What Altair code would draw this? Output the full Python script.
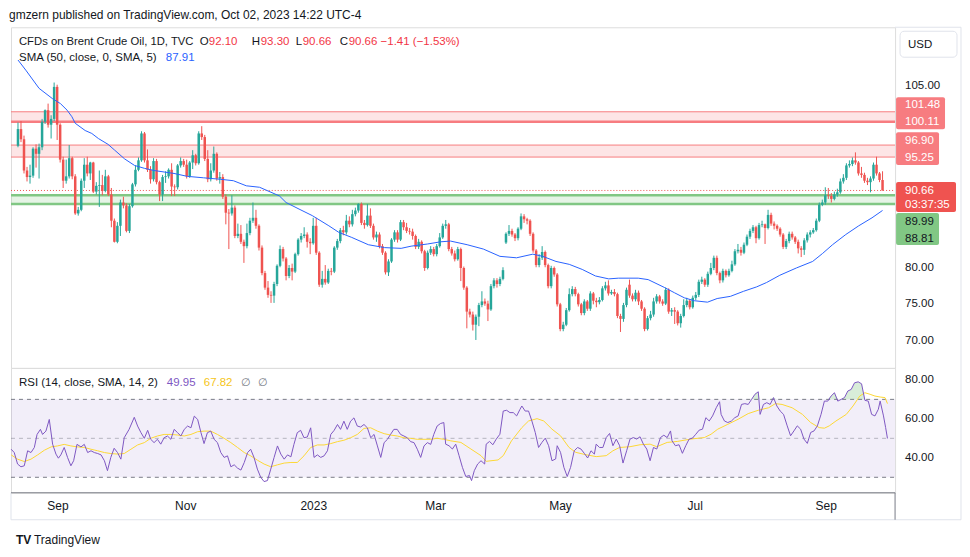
import altair as alt
import pandas as pd

# ---------------- data ----------------
# daily bars, index 0 = 2022-08-11 ... index 287 = 2023-10-02
CLOSE = [
    99.1, 97.7, 93.4, 92.5, 92.7, 96.4, 95.7, 96.6, 100.1, 101.7,
    99.7, 100.5, 104.9, 99.7, 94.9, 92.0, 92.6, 95.1, 92.6, 87.5,
    88.0, 92.0, 94.2, 93.0, 94.5, 90.5, 91.3, 91.4, 90.6, 92.6,
    90.1, 86.5, 83.6, 85.8, 89.0, 88.6, 85.1, 88.5, 91.5, 93.5,
    94.8, 98.5, 94.8, 93.5, 92.2, 94.7, 91.8, 90.1, 92.5, 92.6,
    93.5, 91.2, 91.1, 94.1, 94.7, 94.2, 92.6, 94.5, 95.5, 94.4,
    98.5, 98.0, 95.0, 92.2, 93.4, 95.7, 92.3, 92.5, 89.8, 87.6,
    87.5, 88.3, 84.4, 84.7, 83.6, 83.0, 84.8, 86.5, 86.9, 85.8,
    82.8, 79.3, 77.3, 76.3, 76.2, 77.8, 80.3, 82.6, 81.3, 78.9,
    80.0, 79.5, 81.9, 83.9, 84.4, 84.6, 83.6, 83.4, 85.8, 82.1,
    77.7, 78.5, 78.0, 79.6, 79.5, 82.8, 83.7, 85.2, 84.9, 86.5,
    86.0, 87.4, 87.9, 88.8, 86.2, 85.9, 87.2, 85.8, 84.2, 84.6,
    83.0, 82.1, 79.4, 80.9, 83.9, 84.9, 83.9, 86.3, 85.6, 85.1,
    85.0, 84.4, 82.9, 83.6, 82.3, 80.0, 82.1, 82.6, 81.9, 83.0,
    84.2, 85.8, 86.0, 82.6, 82.0, 81.2, 82.6, 80.0, 77.3, 74.0,
    73.6, 72.2, 73.3, 74.9, 75.4, 75.1, 74.3, 77.5, 78.3, 77.8,
    78.5, 79.7, 84.7, 85.1, 84.6, 84.1, 85.4, 87.1, 86.7, 86.5,
    84.7, 82.4, 80.4, 81.4, 82.2, 80.4, 77.5, 80.0, 79.1, 75.0,
    71.6, 72.2, 74.2, 76.4, 77.1, 76.4, 75.0, 73.8, 75.4, 74.4,
    76.5, 75.5, 75.3, 75.6, 77.2, 77.6, 76.5, 76.7, 76.4, 73.4,
    73.0, 74.9, 77.0, 76.2, 75.7, 76.6, 75.4, 74.4, 71.6, 73.1,
    73.6, 75.4, 76.1, 75.4, 75.1, 77.0, 74.0, 74.2, 74.0, 72.4,
    73.4, 74.9, 75.5, 74.6, 75.9, 76.3, 78.1, 78.4, 77.7, 79.2,
    80.0, 81.4, 79.3, 78.3, 79.6, 79.0, 79.6, 80.5, 82.3, 82.5,
    82.1, 83.2, 84.3, 85.1, 85.6, 84.1, 85.9, 86.0, 85.5, 87.3,
    86.1, 85.8, 85.4, 84.6, 82.9, 83.7, 84.7, 84.2, 83.6, 82.7,
    82.5, 83.8, 84.6, 84.9, 85.2, 86.5, 88.7, 89.0, 90.0, 89.9,
    89.5, 90.1, 90.4, 91.9, 92.4, 94.1, 94.3, 94.8, 94.5, 93.0,
    92.8, 92.0, 91.8, 92.3, 94.2, 93.0, 92.1, 90.66,
]
HIGH = [
    100.0, 100.2, 98.2, 93.9, 94.2, 96.6, 97.0, 97.1, 100.5, 101.8,
    102.6, 101.0, 105.5, 105.2, 99.9, 95.3, 94.9, 96.9, 95.3, 92.9,
    88.4, 92.3, 95.1, 95.3, 94.6, 94.6, 91.8, 93.4, 92.8, 93.5,
    92.8, 91.0, 86.8, 86.3, 89.4, 89.8, 88.9, 88.8, 91.7, 94.1,
    95.2, 98.8, 98.7, 96.3, 94.0, 95.1, 95.0, 92.0, 92.8, 93.3,
    93.7, 94.4, 91.5, 94.3, 95.2, 95.0, 94.9, 94.7, 96.2, 95.7,
    98.8, 99.5, 98.3, 96.2, 94.4, 96.7, 95.9, 93.2, 92.9, 90.1,
    88.1, 90.0, 88.6, 86.1, 85.9, 83.9, 86.1, 86.9, 89.0, 88.0,
    86.0, 83.1, 79.6, 78.2, 76.8, 78.1, 80.5, 83.1, 82.9, 81.5,
    80.4, 80.6, 82.1, 84.1, 84.8, 85.6, 84.9, 84.1, 86.9, 86.9,
    82.3, 79.6, 80.4, 79.9, 80.0, 83.0, 84.0, 85.5, 85.8, 87.3,
    87.1, 88.0, 88.3, 88.9, 89.0, 86.6, 88.8, 88.2, 86.1, 85.0,
    84.9, 83.3, 82.3, 81.2, 84.1, 85.2, 85.2, 86.6, 86.6, 86.2,
    85.5, 85.4, 84.6, 84.0, 83.8, 82.5, 82.4, 83.0, 82.9, 83.3,
    84.8, 86.1, 86.6, 86.2, 82.9, 82.4, 82.9, 82.8, 80.2, 77.5,
    74.4, 74.0, 73.6, 75.2, 76.8, 75.8, 75.5, 77.8, 78.6, 78.6,
    78.8, 80.1, 84.9, 85.9, 85.4, 84.8, 85.6, 87.5, 87.4, 86.9,
    86.7, 84.9, 82.6, 81.9, 83.0, 82.4, 80.6, 80.3, 80.2, 79.3,
    75.2, 72.6, 74.5, 77.2, 77.5, 77.4, 76.6, 75.2, 75.7, 75.6,
    76.8, 76.7, 75.9, 76.0, 77.5, 78.1, 78.3, 77.0, 77.1, 76.6,
    73.7, 75.2, 77.3, 78.4, 76.5, 77.0, 76.9, 75.6, 74.6, 73.4,
    74.1, 75.9, 76.4, 76.3, 75.7, 77.3, 77.2, 74.5, 74.6, 74.2,
    73.7, 75.7, 75.9, 75.7, 76.2, 76.7, 78.4, 78.8, 78.6, 79.5,
    80.7, 81.7, 81.7, 79.5, 79.9, 79.8, 79.9, 81.0, 82.6, 83.3,
    82.9, 83.5, 84.6, 85.4, 85.9, 85.8, 86.2, 86.5, 86.1, 88.0,
    87.6, 86.4, 86.0, 85.6, 84.8, 84.0, 85.0, 85.0, 84.4, 83.9,
    83.0, 84.1, 84.9, 85.2, 85.5, 86.8, 89.0, 89.4, 91.1, 91.0,
    90.3, 90.5, 90.9, 92.3, 92.9, 94.4, 94.8, 95.2, 95.9, 94.7,
    93.9, 93.1, 92.4, 92.6, 94.5, 95.3, 93.2, 93.30,
]
LOW = [
    96.6, 97.3, 93.0, 91.9, 91.6, 92.4, 93.8, 92.3, 96.2, 99.8,
    99.3, 97.8, 100.2, 97.6, 94.5, 91.0, 91.6, 92.3, 92.2, 87.3,
    87.2, 87.8, 91.0, 92.6, 92.1, 90.3, 90.1, 88.4, 90.0, 90.4,
    89.9, 85.6, 83.5, 83.4, 84.4, 88.2, 84.9, 84.8, 88.3, 91.2,
    93.3, 94.6, 94.5, 93.2, 91.6, 91.9, 91.5, 89.2, 89.2, 91.7,
    92.3, 89.9, 89.9, 90.8, 93.8, 93.9, 92.3, 92.4, 93.6, 94.1,
    94.2, 97.6, 94.7, 91.8, 91.9, 93.1, 92.0, 91.6, 89.5, 86.0,
    82.6, 87.2, 84.1, 84.1, 83.3, 80.7, 82.7, 84.5, 86.2, 85.4,
    82.4, 79.0, 77.0, 75.9, 75.2, 75.2, 77.5, 80.1, 80.9, 78.3,
    78.6, 78.3, 79.3, 81.7, 83.5, 84.1, 82.8, 81.9, 83.2, 81.8,
    77.4, 77.3, 77.7, 77.8, 79.0, 79.3, 82.5, 83.4, 84.5, 84.6,
    85.6, 85.7, 87.1, 87.6, 85.9, 85.4, 85.7, 85.5, 83.9, 83.6,
    82.7, 81.8, 79.1, 78.9, 80.7, 83.6, 83.5, 83.7, 85.2, 84.8,
    84.6, 83.9, 82.6, 82.6, 82.0, 79.6, 79.8, 81.8, 81.6, 81.6,
    82.8, 84.0, 85.4, 82.3, 81.7, 80.9, 81.0, 78.2, 77.0, 71.7,
    73.2, 71.4, 70.1, 72.0, 74.6, 74.8, 72.7, 74.1, 77.2, 77.3,
    77.5, 78.3, 83.3, 84.4, 84.3, 83.7, 83.8, 85.2, 86.2, 86.0,
    84.4, 82.1, 80.1, 80.1, 81.1, 80.1, 77.2, 77.2, 78.8, 74.7,
    71.3, 71.3, 72.0, 74.0, 76.1, 76.1, 74.7, 73.5, 73.5, 74.1,
    74.1, 75.0, 74.6, 75.0, 75.4, 76.9, 76.2, 76.3, 76.1, 73.1,
    71.2, 72.6, 74.6, 75.9, 75.4, 75.4, 74.9, 74.1, 71.3, 71.4,
    72.8, 73.3, 75.1, 75.1, 74.8, 74.9, 73.7, 73.4, 72.3, 72.1,
    71.8, 73.2, 74.6, 74.3, 74.4, 75.6, 76.0, 77.8, 77.4, 77.4,
    79.0, 79.7, 79.0, 77.9, 78.0, 78.7, 78.8, 79.4, 80.3, 82.0,
    81.7, 81.9, 83.0, 84.0, 84.8, 83.4, 83.9, 85.6, 83.3, 85.3,
    85.8, 85.3, 85.1, 84.3, 82.6, 82.6, 83.4, 83.9, 83.3, 82.0,
    81.5, 81.8, 83.5, 84.2, 84.7, 85.0, 86.3, 88.5, 88.7, 89.5,
    89.0, 89.3, 89.8, 90.2, 91.6, 92.1, 93.8, 94.0, 94.2, 92.7,
    92.4, 91.7, 91.4, 90.4, 92.0, 92.7, 91.8, 90.66,
]
FIRST_OPEN = 96.8
GAP_OPENS = {162: 83.5, 203: 77.7}

SMA_POINTS = [
    (0, 108.6), (2.6, 107.2), (7.0, 104.7), (11.4, 103.3), (14.1, 102.6), (16.3, 101.7),
    (17.9, 100.8), (19.0, 99.9), (22.3, 98.9), (24.5, 98.5), (26.7, 97.8), (29.9, 97.0),
    (32.1, 96.2), (35.4, 95.0), (38.7, 94.1), (42.0, 93.7), (45.2, 93.4), (48.5, 93.2),
    (51.8, 93.0), (56.2, 92.6), (61.6, 92.4), (67.1, 92.2), (71.5, 92.0), (75.8, 91.3),
    (80.2, 91.1), (82.4, 90.7), (86.8, 89.9), (89.0, 89.0), (93.3, 88.1), (97.7, 87.2),
    (103.2, 85.8), (106.5, 84.9), (110.8, 84.2), (116.3, 83.2), (121.7, 82.8), (127.2, 82.7),
    (130.5, 83.0), (136.0, 83.3), (140.3, 83.6), (143.6, 83.7), (149.1, 83.2), (154.5, 82.6),
    (160.0, 81.6), (165.5, 81.4), (170.9, 81.9), (174.2, 81.6), (178.6, 80.9), (183.0, 80.5),
    (187.3, 79.8), (191.7, 78.9), (196.1, 78.5), (199.3, 78.6), (205.9, 78.6), (209.2, 78.4),
    (214.7, 77.3), (217.9, 76.6), (221.2, 75.9), (224.5, 75.5), (228.9, 75.3), (232.1, 75.8),
    (236.5, 76.1), (240.9, 76.8), (245.2, 77.4), (248.5, 78.0), (252.9, 79.0), (258.4, 80.0),
    (263.8, 80.9), (267.1, 82.0), (270.4, 83.2), (274.8, 84.6), (279.1, 85.8), (283.5, 86.9),
    (287.0, 87.91),
]

RSI_POINTS = [
    (-0.6, 44.4), (0.4, 42.7), (1.5, 36.8), (2.6, 35.4), (3.7, 35.9), (4.8, 43.6), (5.9, 42.7),
    (7.0, 45.3), (7.9, 52.0), (9.0, 54.6), (9.7, 52.0), (10.8, 53.7), (11.9, 59.7), (13.0, 47.0),
    (14.1, 41.9), (14.9, 39.8), (15.7, 41.5), (16.8, 45.3), (17.9, 40.2), (19.0, 35.9), (19.9, 38.5),
    (21.0, 46.9), (22.3, 45.6), (23.4, 46.9), (24.5, 42.7), (25.6, 43.6), (26.7, 42.7), (27.8, 42.2),
    (28.9, 41.5), (30.0, 38.5), (31.0, 33.4), (32.1, 40.2), (33.2, 44.9), (34.3, 42.7), (35.4, 39.3),
    (36.5, 50.3), (38.1, 54.6), (39.8, 60.8), (40.9, 56.3), (42.0, 52.9), (43.1, 50.0), (44.2, 54.1),
    (45.2, 49.5), (46.3, 47.8), (47.4, 49.5), (48.5, 47.0), (49.6, 50.3), (50.7, 51.2), (51.8, 49.5),
    (52.9, 54.6), (54.0, 52.9), (55.1, 51.2), (56.2, 54.6), (57.3, 56.3), (58.4, 55.4), (59.5, 61.4),
    (60.6, 59.7), (61.7, 52.9), (62.7, 47.3), (63.8, 52.9), (64.9, 53.7), (66.0, 49.5), (67.1, 47.8),
    (68.2, 42.7), (69.3, 40.2), (70.4, 41.0), (71.5, 35.4), (72.6, 36.4), (73.7, 34.7), (74.8, 33.7),
    (75.9, 37.6), (77.0, 42.7), (78.0, 44.4), (79.1, 40.2), (80.2, 34.2), (81.3, 30.0), (82.4, 27.8),
    (83.5, 28.3), (84.6, 34.2), (85.7, 40.2), (86.8, 46.1), (87.9, 41.9), (89.0, 39.3), (90.1, 41.5),
    (91.2, 40.5), (92.2, 46.9), (93.3, 52.9), (94.4, 54.1), (95.5, 50.3), (96.6, 50.7), (97.7, 55.4),
    (98.8, 40.2), (99.9, 41.5), (101.0, 40.2), (102.1, 41.0), (103.2, 43.6), (104.3, 52.0), (105.4, 54.1),
    (106.5, 57.1), (107.5, 54.6), (108.6, 58.8), (109.7, 54.6), (110.8, 58.8), (111.9, 60.5), (113.0, 56.3),
    (114.1, 55.8), (115.2, 57.1), (116.3, 55.4), (117.4, 50.3), (118.5, 52.0), (119.6, 46.1), (120.7, 40.2),
    (121.8, 47.8), (122.9, 49.5), (123.9, 52.0), (125.0, 54.6), (126.1, 54.6), (127.2, 52.0), (128.3, 51.2),
    (129.4, 50.3), (130.5, 48.3), (131.6, 47.8), (132.7, 44.4), (133.8, 40.2), (134.9, 46.1), (136.0, 47.8),
    (137.1, 46.9), (138.1, 52.0), (139.2, 56.3), (140.3, 57.6), (141.4, 58.1), (142.0, 47.0), (143.1, 46.2),
    (144.2, 44.5), (145.3, 47.0), (146.4, 41.1), (147.5, 35.1), (148.6, 30.4), (149.8, 30.9), (150.5, 28.3),
    (151.4, 33.4), (152.5, 36.8), (153.6, 38.5), (154.8, 36.8), (155.3, 47.0), (156.4, 48.4), (157.5, 46.7),
    (158.6, 49.6), (159.8, 52.1), (160.9, 64.0), (162.0, 64.4), (163.1, 63.2), (164.2, 63.2), (165.3, 61.5),
    (166.4, 64.9), (167.0, 66.6), (168.1, 64.0), (169.2, 64.0), (170.3, 58.9), (171.4, 53.0), (172.5, 45.3),
    (173.6, 47.9), (174.7, 50.1), (175.8, 46.2), (176.9, 38.5), (178.1, 39.4), (178.6, 46.2), (179.7, 42.8),
    (180.8, 35.1), (181.9, 30.4), (183.0, 35.1), (184.2, 43.6), (185.3, 45.3), (186.4, 44.5), (187.5, 42.3),
    (188.6, 39.9), (189.7, 43.6), (190.8, 41.9), (191.4, 47.0), (192.5, 45.3), (193.6, 45.3), (194.7, 50.4),
    (195.8, 52.5), (196.9, 46.2), (198.0, 49.6), (199.1, 46.2), (200.2, 37.3), (201.4, 43.6), (202.5, 49.6),
    (203.6, 50.4), (204.7, 49.6), (205.8, 50.8), (206.9, 47.0), (208.0, 44.5), (209.1, 38.5), (210.2, 45.3),
    (211.3, 44.5), (212.5, 50.4), (213.6, 51.6), (214.7, 50.4), (215.8, 53.8), (216.3, 48.7), (217.4, 46.2),
    (218.6, 46.7), (219.7, 42.3), (220.8, 46.2), (221.9, 49.6), (223.0, 50.1), (224.1, 52.1), (225.2, 54.2),
    (226.3, 54.7), (227.4, 60.6), (228.5, 58.9), (229.6, 61.5), (230.8, 65.7), (231.9, 68.8), (232.4, 62.3),
    (233.5, 58.9), (234.6, 58.1), (235.8, 58.9), (236.9, 60.6), (238.0, 61.5), (239.1, 67.4), (240.2, 67.8),
    (241.3, 67.4), (242.4, 70.0), (243.5, 72.6), (244.6, 73.9), (245.2, 62.3), (246.3, 67.4), (247.4, 68.3),
    (248.5, 67.4), (249.6, 70.9), (250.7, 66.6), (251.8, 64.0), (252.9, 62.3), (254.1, 56.4), (255.2, 51.3),
    (256.3, 53.8), (257.4, 56.4), (258.5, 54.7), (259.6, 49.6), (260.7, 47.4), (261.8, 53.0), (262.9, 53.8),
    (264.0, 56.4), (265.2, 62.3), (266.3, 69.1), (267.4, 69.1), (268.5, 71.7), (269.6, 73.4), (270.7, 69.1),
    (271.8, 70.0), (272.9, 70.9), (274.0, 74.3), (275.1, 75.1), (276.2, 78.5), (277.4, 79.0), (278.5, 78.0),
    (279.6, 69.5), (280.7, 69.1), (281.8, 62.3), (282.9, 61.5), (284.0, 64.9), (284.6, 69.1), (285.7, 61.5),
    (286.4, 55.5), (287.0, 49.95),
]

RSI_MA_POINTS = [
    (-0.6, 41.5), (1.5, 39.3), (3.7, 38.1), (5.9, 39.3), (8.1, 41.5), (10.3, 43.9), (12.5, 45.6),
    (14.6, 46.1), (16.8, 46.9), (19.0, 46.1), (21.2, 45.6), (23.4, 45.3), (25.6, 44.4), (27.8, 43.6),
    (30.0, 42.7), (32.1, 42.2), (34.3, 41.9), (36.5, 42.2), (38.7, 44.4), (40.9, 46.6), (43.1, 47.8),
    (45.2, 50.0), (47.4, 51.2), (49.6, 52.0), (51.8, 52.0), (54.0, 51.7), (56.2, 51.2), (58.4, 52.0),
    (60.6, 53.4), (62.7, 53.7), (64.9, 53.7), (67.1, 52.0), (69.3, 50.0), (71.5, 47.8), (73.7, 45.3),
    (75.9, 42.7), (78.0, 41.0), (80.2, 38.8), (82.4, 36.8), (84.6, 35.4), (86.8, 36.4), (89.0, 37.3),
    (91.2, 37.6), (93.3, 37.6), (95.5, 41.0), (97.7, 45.3), (99.9, 46.6), (102.1, 46.6), (104.3, 47.3),
    (106.5, 48.3), (108.6, 49.0), (110.8, 50.3), (113.0, 52.0), (115.2, 55.1), (117.4, 55.4),
    (119.6, 53.7), (121.8, 52.4), (123.9, 51.7), (126.1, 51.2), (128.3, 50.3), (130.5, 50.0),
    (132.7, 49.5), (134.9, 49.5), (137.1, 49.5), (139.2, 50.0), (141.4, 49.5), (143.7, 48.7),
    (147.0, 47.9), (150.3, 44.5), (153.6, 41.1), (155.3, 38.2), (159.2, 38.9), (160.9, 41.1),
    (163.6, 48.7), (167.0, 55.5), (169.2, 58.9), (172.0, 60.1), (174.2, 58.9), (176.9, 54.7),
    (179.7, 51.3), (182.5, 45.3), (184.7, 42.8), (188.0, 41.6), (191.4, 40.6), (194.7, 41.1),
    (196.9, 43.6), (199.1, 45.3), (202.5, 45.7), (205.8, 46.7), (209.1, 47.0), (211.3, 45.7),
    (214.7, 47.9), (218.0, 48.4), (222.4, 49.6), (226.9, 50.4), (229.1, 52.1), (231.3, 54.7),
    (234.6, 57.2), (238.0, 59.8), (241.3, 62.7), (244.6, 64.4), (248.0, 65.7), (250.2, 67.8),
    (252.4, 67.4), (255.7, 65.7), (259.1, 62.3), (261.8, 58.1), (264.6, 55.5), (266.3, 55.2),
    (267.9, 56.4), (270.1, 58.9), (273.5, 62.3), (275.7, 66.6), (277.9, 71.7), (279.6, 73.4),
    (281.3, 72.6), (282.9, 71.7), (284.6, 71.2), (286.2, 70.9), (287.0, 67.82),
]

TICK_POS = [14.75, 56.7, 98.7, 138.7, 179.7, 223.9, 266.9]
TICK_LABELS = ["Sep", "Nov", "2023", "Mar", "May", "Jul", "Sep"]
PRICE_GRID = [70, 75, 80, 85, 90, 95, 100, 105]
PRICE_LABELS = [105, 80, 75, 70]
RSI_TICKS = [40, 60, 80]

RED_ZONES = [(100.11, 101.48), (95.25, 96.90)]
GREEN_ZONES = [(88.81, 89.99)]
ZONE_LINES = [(101.48, 1, "red"), (100.11, 2.5, "red"), (96.90, 1, "red"), (95.25, 1, "red"),
              (89.99, 2.5, "green"), (88.81, 2.5, "green")]
LAST_PRICE = 90.66
RSI_LEVELS = [(70, 1.0), (50, 0.5), (30, 1.0)]

# ---------------- style ----------------
FONT = "Liberation Sans"
TEXT = "#131722"
AXIS = "#787b86"
GRID = "#f0f3fa"
BORDER = "#e0e3eb"
UP = "#26a69a"
DOWN = "#ef5350"
SMA_BLUE = "#2962ff"
PURPLE = "#7e57c2"
YELLOW = "#fdd835"
LVL_RED = "#f77c80"
LVL_GREEN = "#81c784"

W, H1, H2 = 885, 341, 125
X_DOMAIN = [-0.66, 289.5]
P_DOMAIN = [66.26, 113.10]
R_DOMAIN = [22.05, 86.15]

# ---------------- tables ----------------
n = min(len(CLOSE), len(HIGH), len(LOW))
opens = [FIRST_OPEN] + CLOSE[: n - 1]
for k, v in GAP_OPENS.items():
    opens[k] = v
candles = pd.DataFrame({
    "i": list(range(n)), "o": opens[:n], "h": HIGH[:n], "l": LOW[:n], "c": CLOSE[:n],
})
candles["dir"] = ["up" if c >= o else "down" for o, c in zip(candles["o"], candles["c"])]

zones = pd.DataFrame(
    [{"lo": a, "hi": b, "col": LVL_RED} for a, b in RED_ZONES]
    + [{"lo": a, "hi": b, "col": LVL_GREEN} for a, b in GREEN_ZONES]
)
zone_lines = pd.DataFrame([
    {"lvl": v, "w": w, "col": LVL_RED if c == "red" else LVL_GREEN} for v, w, c in ZONE_LINES
])
sma = pd.DataFrame(SMA_POINTS, columns=["i", "v"])
rsi = pd.DataFrame(RSI_POINTS, columns=["i", "v"])
rsi_ma = pd.DataFrame(RSI_MA_POINTS, columns=["i", "v"])
rsi_lv = pd.DataFrame(RSI_LEVELS, columns=["lvl", "op"])
price_lab = pd.DataFrame({"v": PRICE_LABELS, "t": [f"{v:.2f}" for v in PRICE_LABELS]})
rsi_lab = pd.DataFrame({"v": RSI_TICKS, "t": [f"{v:.2f}" for v in RSI_TICKS]})
time_lab = pd.DataFrame({"p": TICK_POS, "t": TICK_LABELS})

xs = alt.Scale(domain=X_DOMAIN, nice=False, zero=False)
ps = alt.Scale(domain=P_DOMAIN, nice=False, zero=False)
rs = alt.Scale(domain=R_DOMAIN, nice=False, zero=False)
dir_scale = alt.Scale(domain=["up", "down"], range=[UP, DOWN])

price_axis = alt.Axis(orient="right", values=PRICE_GRID, grid=True, gridColor=GRID,
                      ticks=False, labels=False, domain=True, domainColor=AXIS, title=None)
x_grid_axis = alt.Axis(values=TICK_POS, grid=True, gridColor=GRID, labels=False, ticks=False,
                       domain=False, title=None)
x_axis = alt.Axis(values=TICK_POS, grid=True, gridColor=GRID, labels=False, ticks=False,
                  domain=True, domainColor=AXIS, title=None)
rsi_axis = alt.Axis(orient="right", values=RSI_TICKS, grid=True, gridColor=GRID, ticks=False,
                    labels=False, domain=True, domainColor=AXIS, title=None)

ONE = pd.DataFrame({"t": [""]})


def txt(text, x, y, color=TEXT, size=11.5, weight="normal", align="left"):
    return alt.Chart(ONE).mark_text(
        text=text, font=FONT, fontSize=size, fontWeight=weight, align=align,
        baseline="middle", color=color,
    ).encode(x=alt.value(x), y=alt.value(y))


def box(x, x2, y, y2, fill, stroke=None, radius=2):
    kw = dict(fill=fill, cornerRadius=radius)
    if stroke:
        kw.update(stroke=stroke, strokeWidth=1)
    return alt.Chart(ONE).mark_rect(**kw).encode(
        x=alt.value(x), x2=alt.value(x2), y=alt.value(y), y2=alt.value(y2))


def hline(x, x2, y, color=BORDER):
    return alt.Chart(ONE).mark_rule(color=color, strokeWidth=1).encode(
        x=alt.value(x), x2=alt.value(x2), y=alt.value(y), y2=alt.value(y))


def vline(x, y, y2, color=BORDER):
    return alt.Chart(ONE).mark_rule(color=color, strokeWidth=1).encode(
        x=alt.value(x), x2=alt.value(x), y=alt.value(y), y2=alt.value(y2))


# ---------------- price panel ----------------
zone_fill = alt.Chart(zones).mark_rect(opacity=0.2).encode(
    x=alt.value(0), x2=alt.value(W),
    y=alt.Y("lo:Q", scale=ps, axis=None), y2="hi:Q",
    color=alt.Color("col:N", scale=None),
)
zone_edge = alt.Chart(zone_lines).mark_rule().encode(
    x=alt.value(0), x2=alt.value(W),
    y=alt.Y("lvl:Q", scale=ps, axis=None),
    color=alt.Color("col:N", scale=None),
    strokeWidth=alt.StrokeWidth("w:Q", scale=None),
)
last_line = alt.Chart(pd.DataFrame({"p": [LAST_PRICE]})).mark_rule(
    color=DOWN, strokeDash=[1, 2], strokeWidth=1).encode(
    x=alt.value(0), x2=alt.value(W), y=alt.Y("p:Q", scale=ps, axis=None))
sma_line = alt.Chart(sma).mark_line(color=SMA_BLUE, strokeWidth=1).encode(
    x=alt.X("i:Q", scale=xs, axis=None), y=alt.Y("v:Q", scale=ps, axis=None))
wicks = alt.Chart(candles).mark_rule(strokeWidth=1).encode(
    x=alt.X("i:Q", scale=xs, axis=x_grid_axis),
    y=alt.Y("l:Q", scale=ps, axis=price_axis), y2="h:Q",
    color=alt.Color("dir:N", scale=dir_scale, legend=None),
)
bodies = alt.Chart(candles).mark_bar(size=2.5).encode(
    x=alt.X("i:Q", scale=xs, axis=None),
    y=alt.Y("o:Q", scale=ps, axis=None), y2="c:Q",
    color=alt.Color("dir:N", scale=dir_scale, legend=None),
)
price_ticks = alt.Chart(price_lab).mark_text(
    font=FONT, fontSize=11.5, align="left", baseline="middle", color=TEXT).encode(
    x=alt.value(895), y=alt.Y("v:Q", scale=ps, axis=None), text="t:N")

price_text = [
    txt("gmzern published on TradingView.com, Oct 02, 2023 14:22 UTC-4", -2, -12.5, size=12),
    txt("CFDs on Brent Crude Oil, 1D, TVC", 8, 15, size=11.3),
    txt("O", 189, 15), txt("92.10", 198, 15, color="#f23645"),
    txt("H", 241, 15), txt("93.30", 250, 15, color="#f23645"),
    txt("L", 285, 15), txt("90.66", 292, 15, color="#f23645"),
    txt("C", 329, 15), txt("90.66", 338, 15, color="#f23645"),
    txt("\u22121.41 (\u22121.53%)", 370, 15, color="#f23645"),
    txt("SMA (50, close, 0, SMA, 5)", 8, 31),
    txt("87.91", 155, 31, color=SMA_BLUE),
]
right_labels = [
    box(886, 935, 70, 102, LVL_RED),
    txt("101.48", 895, 78, color="white"), txt("100.11", 895, 94.5, color="white"),
    box(886, 929, 105, 138, LVL_RED),
    txt("96.90", 895, 113.5, color="white"), txt("95.25", 895, 130.5, color="white"),
    box(886, 946, 155, 185, DOWN),
    txt("90.66", 895, 163.5, color="white"), txt("03:37:35", 895, 178, color="white"),
    box(886, 929, 186, 218, LVL_GREEN),
    txt("89.99", 895, 194.5), txt("88.81", 895, 211.5),
    box(890, 947, 4, 30, "white", stroke=BORDER, radius=4),
    txt("USD", 898, 17.5),
    hline(885, 951, 0),
]

price = alt.layer(
    zone_fill, zone_edge, last_line, wicks, bodies, sma_line, price_ticks,
    *price_text, *right_labels
).properties(width=W, height=H1)

# ---------------- RSI panel ----------------
rsi_band = alt.Chart(pd.DataFrame({"lo": [30], "hi": [70]})).mark_rect(
    color=PURPLE, opacity=0.1).encode(
    x=alt.value(0), x2=alt.value(W),
    y=alt.Y("lo:Q", scale=rs, axis=rsi_axis), y2="hi:Q")
rsi_dash = alt.Chart(rsi_lv).mark_rule(color=AXIS, strokeDash=[4, 4], strokeWidth=1).encode(
    x=alt.value(0), x2=alt.value(W),
    y=alt.Y("lvl:Q", scale=rs, axis=None),
    opacity=alt.Opacity("op:Q", scale=None))
rsi_ob = alt.Chart(rsi).transform_calculate(top="max(datum.v, 70)").mark_area(
    color="#4caf50", opacity=0.22).encode(
    x=alt.X("i:Q", scale=xs, axis=None),
    y=alt.Y("top:Q", scale=rs, axis=None), y2=alt.datum(70))
rsi_ma_line = alt.Chart(rsi_ma).mark_line(color=YELLOW, strokeWidth=1).encode(
    x=alt.X("i:Q", scale=xs, axis=None), y=alt.Y("v:Q", scale=rs, axis=None))
rsi_line = alt.Chart(rsi).mark_line(color=PURPLE, strokeWidth=1).encode(
    x=alt.X("i:Q", scale=xs, axis=x_axis), y=alt.Y("v:Q", scale=rs, axis=None))
rsi_ticks = alt.Chart(rsi_lab).mark_text(
    font=FONT, fontSize=11.5, align="left", baseline="middle", color=TEXT).encode(
    x=alt.value(895), y=alt.Y("v:Q", scale=rs, axis=None), text="t:N")
time_ticks = alt.Chart(time_lab).mark_text(
    font=FONT, fontSize=12, align="center", baseline="middle", color=TEXT).encode(
    x=alt.X("p:Q", scale=xs, axis=None), y=alt.value(H2 + 13.5), text="t:N")

rsi_text = [
    txt("RSI (14, close, SMA, 14, 2)", 8, 15),
    txt("49.95", 156, 15, color=PURPLE),
    txt("67.82", 193, 15, color="#f5c518"),
    txt("\u2205", 230, 15, color=AXIS), txt("\u2205", 247, 15, color=AXIS),
    txt("TV", 5, 172, size=12, weight="bold"),
    txt("TradingView", 23, 172, size=12),
    hline(0, 951, 152), vline(951, -341, 152), vline(0, 125, 152),
    hline(0, W, H2, color=AXIS), vline(W, H2, 152, color=AXIS),
]

rsi_panel = alt.layer(
    rsi_band, rsi_dash, rsi_ob, rsi_ma_line, rsi_line, rsi_ticks, time_ticks, *rsi_text
).properties(width=W, height=H2)

chart = alt.vconcat(price, rsi_panel, spacing=0, bounds="flush").properties(
    padding={"left": 0, "top": 0, "right": 0, "bottom": 0}
).configure_view(stroke=BORDER, strokeWidth=1).configure(background="white")

chart.save("out.html", embed_options={"renderer": "svg", "actions": False})
